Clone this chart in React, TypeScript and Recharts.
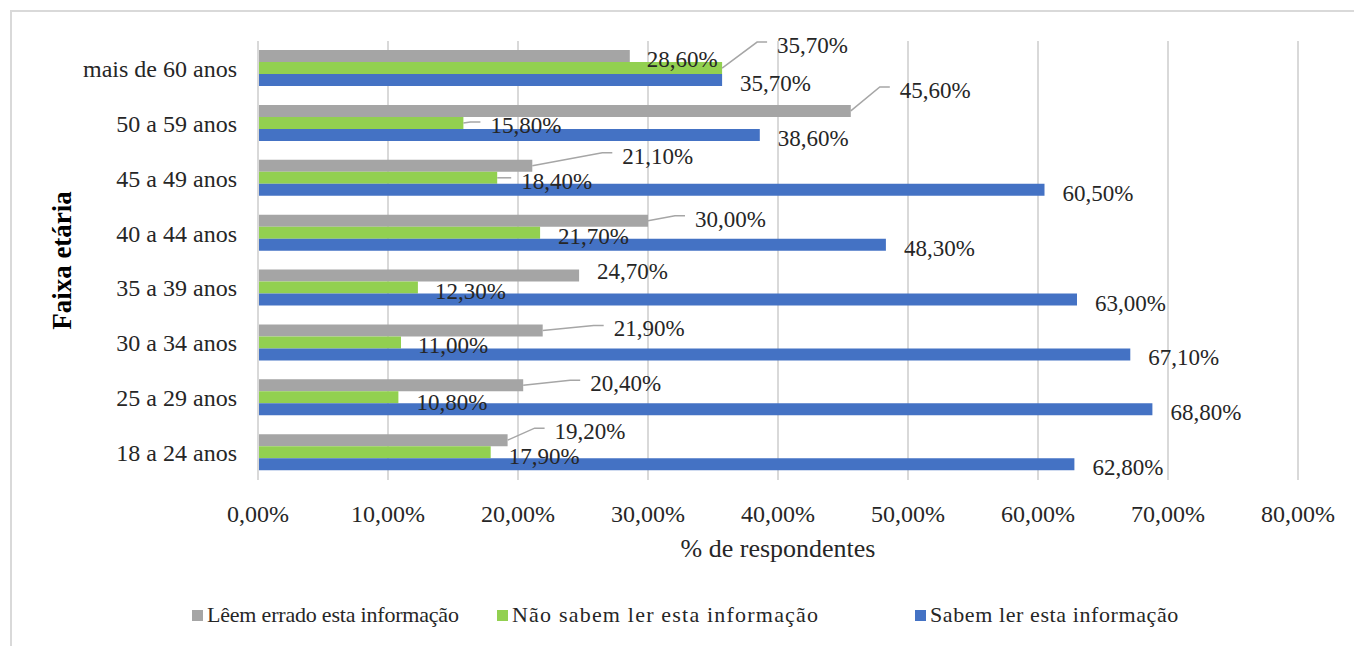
import React from 'react'
import { BarChart, Bar, XAxis, YAxis, CartesianGrid, Legend, LabelList, Label } from 'recharts'

// age groups, top to bottom as in the chart
const ageGroups = [
  'mais de 60 anos',
  '50 a 59 anos',
  '45 a 49 anos',
  '40 a 44 anos',
  '35 a 39 anos',
  '30 a 34 anos',
  '25 a 29 anos',
  '18 a 24 anos',
]
const leemErrado = [28.6, 45.6, 21.1, 30.0, 24.7, 21.9, 20.4, 19.2]
const naoSabem = [35.7, 15.8, 18.4, 21.7, 12.3, 11.0, 10.8, 17.9]
const sabem = [35.7, 38.6, 60.5, 48.3, 63.0, 67.1, 68.8, 62.8]
const xTicks = [0, 10, 20, 30, 40, 50, 60, 70, 80]

const SERIES = [
  { key: 'leem', name: 'Lêem errado esta informação', color: '#a5a5a5' },
  { key: 'nao', name: 'Não sabem ler esta informação', color: '#92d050' },
  { key: 'sabem', name: 'Sabem ler esta informação', color: '#4472c4' },
]
// legend entry widths / letter spacing, the original stretches its legend text a little
const LEGEND_ITEM_W = [305, 418, 300]
const LEGEND_SPACING = [-0.2, 1.2, 0.6]

// label placement as moved by hand in the original (dx, dy from bar end, leader line)
const LABEL_SHIFT: Record<string, [number, number, boolean][]> = {
  leem: [[17, 3, false], [49, -21, true], [90, -10, true], [47, -2, true], [18, -5, false], [71, -2, true], [67, -2, true], [47, -9, true]],
  nao: [[55, -23, true], [27, 2, true], [24, 3, true], [18, 3, false], [17, 3, false], [17, 3, false], [18, 5, false], [18, 4, false]],
  sabem: [],
}

const FONT = "'Liberation Serif'"
const TEXT = '#262626'

const data = ageGroups.map((g, i) => ({
  group: g,
  leem: leemErrado[i],
  nao: naoSabem[i],
  sabem: sabem[i],
}))

const pct = (v: number) => v.toFixed(2).replace('.', ',') + '%'

const makeLabel = (key: string) => (props: any) => {
  const { x, y, width, height, value, index } = props
  const shift = LABEL_SHIFT[key][index] || [18, 3, false]
  const xe = Number(x) + Number(width)
  const yc = Number(y) + Number(height) / 2
  const tx = xe + shift[0]
  const ty = yc + shift[1]
  return (
    <g>
      {shift[2] && (
        <polyline
          points={`${xe},${yc} ${tx - 20},${ty - 3} ${tx - 10},${ty - 3}`}
          fill="none"
          stroke="#a6a6a6"
          strokeWidth={1.5}
        />
      )}
      <text x={tx} y={ty} dy="0.35em" textAnchor="start" style={{ fontFamily: FONT, fontSize: 23 }} fill={TEXT}>
        {pct(value)}
      </text>
    </g>
  )
}

const renderLegend = () => (
  <div
    style={{
      height: 66,
      boxSizing: 'border-box',
      paddingTop: 44,
      paddingLeft: 182,
      display: 'flex',
      fontFamily: FONT,
      fontSize: 22,
      lineHeight: '22px',
      color: TEXT,
    }}
  >
    {SERIES.map((s, i) => (
      <div key={s.key} style={{ display: 'flex', alignItems: 'center', width: LEGEND_ITEM_W[i], whiteSpace: 'nowrap' }}>
        <span style={{ width: 11, height: 11, background: s.color, marginRight: 4, display: 'inline-block', flex: 'none' }} />
        <span style={{ letterSpacing: LEGEND_SPACING[i] }}>{s.name}</span>
      </div>
    ))}
  </div>
)

const tickStyle = { fontSize: 24, fill: TEXT, style: { fontFamily: FONT } }

export default function App() {
  return (
    <div style={{ position: 'absolute', left: 0, top: 0, width: 1354, height: 646, background: '#fff', fontFamily: FONT }}>
      <div
        style={{
          position: 'absolute',
          left: 10,
          top: 10,
          width: 1344,
          height: 636,
          borderTop: '2px solid #d9d9d9',
          borderLeft: '2px solid #d9d9d9',
        }}
      />
      <BarChart
        width={1354}
        height={646}
        data={data}
        layout="vertical"
        margin={{ top: 41, right: 56, bottom: 20, left: 10 }}
        barCategoryGap="16.5%"
        barGap={0}
        style={{ fontFamily: FONT }}
      >
        <CartesianGrid horizontal={false} stroke="#d9d9d9" strokeWidth={2} />
        <XAxis
          type="number"
          domain={[0, 80]}
          ticks={xTicks}
          tickFormatter={pct}
          axisLine={false}
          tickLine={false}
          tickSize={0}
          tickMargin={25}
          height={80}
          tick={tickStyle}
        >
          <Label
            value="% de respondentes"
            position="insideBottom"
            offset={3}
            style={{ fontFamily: FONT, fontSize: 26, fill: TEXT }}
          />
        </XAxis>
        <YAxis
          type="category"
          dataKey="group"
          width={248}
          axisLine={{ stroke: '#d9d9d9', strokeWidth: 2 }}
          tickLine={false}
          tickSize={0}
          tickMargin={21}
          tick={tickStyle}
        >
          <Label
            value="Faixa etária"
            angle={-90}
            position="insideLeft"
            offset={51}
            style={{ fontFamily: FONT, fontSize: 27, fontWeight: 'bold', fill: '#000', textAnchor: 'middle' }}
          />
        </YAxis>
        <Legend verticalAlign="bottom" content={renderLegend} />
        {SERIES.map(s => (
          <Bar key={s.key} dataKey={s.key} name={s.name} fill={s.color} isAnimationActive={false}>
            <LabelList dataKey={s.key} content={makeLabel(s.key)} />
          </Bar>
        ))}
      </BarChart>
    </div>
  )
}
